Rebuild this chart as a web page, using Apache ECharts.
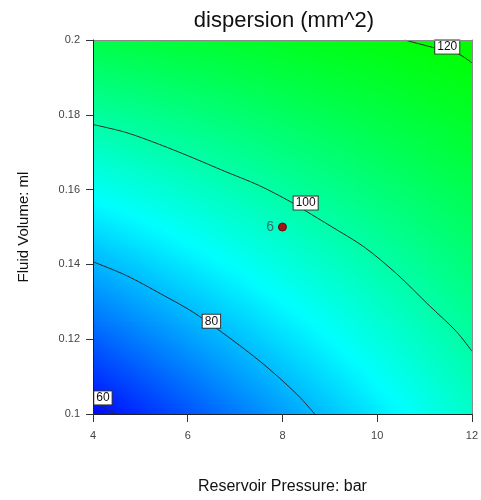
<!DOCTYPE html>
<html>
<head>
<meta charset="utf-8">
<script src="https://cdn.jsdelivr.net/npm/echarts@6/dist/echarts.min.js"></script>
<style>
  html, body { margin: 0; padding: 0; background: #fff; overflow: hidden; }
  #chart { width: 481px; height: 500px; }
</style>
</head>
<body>
<div id="chart"></div>
<script>
// grid nodes of the response surface
const pressureNodes = [4, 4.5, 5, 5.5, 6, 6.5, 7, 7.5, 8, 8.5, 9, 9.5, 10, 10.5, 11, 11.5, 12];
const volumeNodes = [0.1, 0.105, 0.11, 0.115, 0.12, 0.125, 0.13, 0.135, 0.14, 0.145, 0.15,
  0.155, 0.16, 0.165, 0.17, 0.175, 0.18, 0.185, 0.19, 0.195, 0.2];

// dispersion (mm^2) estimated at each node, one row per volume node (0.1 first)
const dispersion = [
  [58.0, 60.4, 62.7, 65.1, 67.4, 69.8, 72.1, 74.5, 76.8, 79.2, 81.5, 83.9, 86.2, 88.6, 90.9, 93.3, 95.6],
  [60.7, 63.0, 65.2, 67.5, 69.8, 72.0, 74.3, 76.5, 78.8, 81.1, 83.3, 85.6, 87.9, 90.1, 92.4, 94.6, 96.9],
  [63.4, 65.6, 67.8, 69.9, 72.1, 74.3, 76.5, 78.6, 80.8, 83.0, 85.2, 87.3, 89.5, 91.7, 93.9, 96.0, 98.2],
  [66.1, 68.2, 70.3, 72.4, 74.5, 76.5, 78.6, 80.7, 82.8, 84.9, 87.0, 89.1, 91.2, 93.2, 95.3, 97.4, 99.5],
  [68.8, 70.8, 72.8, 74.8, 76.8, 78.8, 80.8, 82.8, 84.8, 86.8, 88.8, 90.8, 92.8, 94.8, 96.8, 98.8, 100.8],
  [71.5, 73.4, 75.3, 77.2, 79.2, 81.1, 83.0, 84.9, 86.8, 88.7, 90.6, 92.5, 94.5, 96.4, 98.3, 100.2, 102.1],
  [74.2, 76.0, 77.9, 79.7, 81.5, 83.3, 85.2, 87.0, 88.8, 90.6, 92.5, 94.3, 96.1, 97.9, 99.8, 101.6, 103.4],
  [76.9, 78.6, 80.4, 82.1, 83.9, 85.6, 87.3, 89.1, 90.8, 92.5, 94.3, 96.0, 97.8, 99.5, 101.2, 103.0, 104.7],
  [79.6, 81.3, 82.9, 84.6, 86.2, 87.9, 89.5, 91.2, 92.8, 94.5, 96.1, 97.8, 99.4, 101.1, 102.7, 104.4, 106.0],
  [82.3, 83.9, 85.4, 87.0, 88.6, 90.1, 91.7, 93.2, 94.8, 96.4, 97.9, 99.5, 101.1, 102.6, 104.2, 105.7, 107.3],
  [85.0, 86.5, 88.0, 89.4, 90.9, 92.4, 93.9, 95.3, 96.8, 98.3, 99.8, 101.2, 102.7, 104.2, 105.7, 107.1, 108.6],
  [87.7, 89.1, 90.5, 91.9, 93.3, 94.6, 96.0, 97.4, 98.8, 100.2, 101.6, 103.0, 104.4, 105.7, 107.1, 108.5, 109.9],
  [90.4, 91.7, 93.0, 94.3, 95.6, 96.9, 98.2, 99.5, 100.8, 102.1, 103.4, 104.7, 106.0, 107.3, 108.6, 109.9, 111.2],
  [93.1, 94.3, 95.5, 96.7, 98.0, 99.2, 100.4, 101.6, 102.8, 104.0, 105.2, 106.4, 107.7, 108.9, 110.1, 111.3, 112.5],
  [95.8, 96.9, 98.1, 99.2, 100.3, 101.4, 102.6, 103.7, 104.8, 105.9, 107.1, 108.2, 109.3, 110.4, 111.6, 112.7, 113.8],
  [98.5, 99.5, 100.6, 101.6, 102.7, 103.7, 104.7, 105.8, 106.8, 107.8, 108.9, 109.9, 111.0, 112.0, 113.0, 114.1, 115.1],
  [101.2, 102.2, 103.1, 104.1, 105.0, 106.0, 106.9, 107.9, 108.8, 109.8, 110.7, 111.7, 112.6, 113.6, 114.5, 115.5, 116.4],
  [103.9, 104.8, 105.6, 106.5, 107.4, 108.2, 109.1, 109.9, 110.8, 111.7, 112.5, 113.4, 114.3, 115.1, 116.0, 116.8, 117.7],
  [106.6, 107.4, 108.2, 108.9, 109.7, 110.5, 111.3, 112.0, 112.8, 113.6, 114.4, 115.1, 115.9, 116.7, 117.5, 118.2, 119.0],
  [109.3, 110.0, 110.7, 111.4, 112.1, 112.7, 113.4, 114.1, 114.8, 115.5, 116.2, 116.9, 117.6, 118.2, 118.9, 119.6, 120.3],
  [112.0, 112.6, 113.2, 113.8, 114.4, 115.0, 115.6, 116.2, 116.8, 117.4, 118.0, 118.6, 119.2, 119.8, 120.4, 121.0, 121.6]
];

// contour lines [pressure, volume]
const contour60 = [[4, 0.1032], [4.25, 0.1016], [4.48, 0.1]];
const contour80 = [[4, 0.1407], [4.71, 0.137], [5.42, 0.1322], [6.13, 0.1271], [6.92, 0.12],
  [7.63, 0.113], [8.32, 0.1051], [8.68, 0.1]];
const contour100 = [[4, 0.1774], [4.69, 0.1753], [5.4, 0.1721], [6.09, 0.1686], [6.78, 0.1649],
  [7.49, 0.1612], [8.18, 0.1567], [8.49, 0.1543], [9.01, 0.1503], [9.72, 0.1447],
  [10.41, 0.1375], [11.1, 0.129], [11.67, 0.1221], [12, 0.1168]];
const contour120 = [[10.58, 0.2], [11.21, 0.1979], [11.71, 0.1963], [12, 0.1939]];

// contour labels [pressure, volume, level]
const contourLabels = [[4.21, 0.1043, 60], [6.5, 0.1248, 80], [8.49, 0.1564, 100], [11.48, 0.1981, 120]];

// design point (centre point, replicate count)
const designPoints = [[8, 0.15, 6]];

const font = 'Liberation Sans, Arial, sans-serif';
const palette = ['#0000ff', '#00ffff', '#00ff00'];
const colorMin = 57;
const colorMax = 121;

function colorOf(v) {
  const t = Math.min(1, Math.max(0, (v - colorMin) / (colorMax - colorMin)));
  return echarts.color.lerp(t, palette);
}

// one item per cell: x0, y0, x1, y1, bottom-left, bottom-right, top-left, top-right
const cells = [];
for (let j = 0; j < volumeNodes.length - 1; j++) {
  for (let i = 0; i < pressureNodes.length - 1; i++) {
    cells.push([
      pressureNodes[i], volumeNodes[j], pressureNodes[i + 1], volumeNodes[j + 1],
      dispersion[j][i], dispersion[j][i + 1], dispersion[j + 1][i], dispersion[j + 1][i + 1]
    ]);
  }
}

function renderCell(params, api) {
  const p0 = api.coord([api.value(0), api.value(1)]);
  const p1 = api.coord([api.value(2), api.value(3)]);
  const v00 = api.value(4), v10 = api.value(5), v01 = api.value(6), v11 = api.value(7);
  const w = p1[0] - p0[0];
  const h = p0[1] - p1[1];
  // value change per pixel inside the cell (screen y grows downwards)
  const gx = ((v10 - v00) + (v11 - v01)) / 2 / w;
  const gy = -((v01 - v00) + (v11 - v10)) / 2 / h;
  const g = Math.sqrt(gx * gx + gy * gy) || 1e-9;
  const ux = gx / g, uy = gy / g;
  const half = (w * Math.abs(ux) + h * Math.abs(uy)) / 2;
  const cx = p0[0] + w / 2, cy = p1[1] + h / 2;
  const vc = (v00 + v10 + v01 + v11) / 4;
  const stops = [];
  for (let k = 0; k <= 4; k++) {
    const t = k / 4;
    stops.push({ offset: t, color: colorOf(vc + g * half * (2 * t - 1)) });
  }
  return {
    type: 'rect',
    shape: { x: p0[0] - 0.4, y: p1[1] - 0.4, width: w + 0.8, height: h + 0.8 },
    style: {
      fill: new echarts.graphic.LinearGradient(
        cx - ux * half, cy - uy * half, cx + ux * half, cy + uy * half, stops, true),
      stroke: null
    }
  };
}

function contourSeries(data) {
  return {
    type: 'line',
    data: data,
    smooth: 0.3,
    showSymbol: false,
    silent: true,
    z: 3,
    lineStyle: { color: '#2a2a2a', width: 1 }
  };
}

// plain frame line for the top and right edges of the plot
const frameAxis = {
  type: 'value',
  z: 6,
  axisLine: { show: true, lineStyle: { color: '#8a8a8a', width: 1 } },
  axisTick: { show: false },
  axisLabel: { show: false },
  splitLine: { show: false }
};

const chart = echarts.init(document.getElementById('chart'), null, { renderer: 'canvas' });

chart.setOption({
  animation: false,
  backgroundColor: '#fff',
  title: {
    text: 'dispersion (mm^2)',
    left: 284,
    top: 10,
    padding: 0,
    textAlign: 'center',
    textStyle: { fontFamily: font, fontSize: 22, fontWeight: 'normal', color: '#111' }
  },
  grid: { left: 93, top: 40, width: 383, height: 376 },
  xAxis: [
    {
      type: 'value',
      min: 4,
      max: 12,
      interval: 2,
      position: 'bottom',
      z: 7,
      name: 'Reservoir Pressure: bar',
      nameLocation: 'middle',
      nameGap: 65,
      nameTextStyle: { fontFamily: font, fontSize: 16, color: '#111' },
      axisLine: { lineStyle: { color: '#222', width: 1 } },
      axisTick: { length: 8, lineStyle: { color: '#333' } },
      axisLabel: { fontFamily: font, fontSize: 11, color: '#444', margin: 16 },
      splitLine: { show: false }
    },
    Object.assign({ min: 4, max: 12, position: 'top' }, frameAxis)
  ],
  yAxis: [
    {
      type: 'value',
      min: 0.1,
      max: 0.2,
      interval: 0.02,
      position: 'left',
      z: 7,
      name: 'Fluid Volume: ml',
      nameLocation: 'middle',
      nameGap: 62,
      nameTextStyle: { fontFamily: font, fontSize: 15, color: '#111' },
      axisLine: { lineStyle: { color: '#222', width: 1 } },
      axisTick: { length: 7, lineStyle: { color: '#333' } },
      axisLabel: { fontFamily: font, fontSize: 11, color: '#444', margin: 13 },
      splitLine: { show: false }
    },
    Object.assign({ min: 0.1, max: 0.2, position: 'right' }, frameAxis)
  ],
  series: [
    {
      type: 'custom',
      data: cells,
      encode: { x: [0, 2], y: [1, 3] },
      renderItem: renderCell,
      clip: true,
      silent: true,
      z: 1
    },
    contourSeries(contour60),
    contourSeries(contour80),
    contourSeries(contour100),
    contourSeries(contour120),
    {
      type: 'scatter',
      data: contourLabels,
      symbolSize: 0,
      silent: true,
      z: 4,
      itemStyle: { opacity: 1 },
      label: {
        show: true,
        position: 'inside',
        formatter: p => String(p.value[2]),
        fontFamily: font,
        fontSize: 12,
        color: '#111',
        backgroundColor: '#fff',
        borderColor: '#333',
        borderWidth: 1,
        padding: [1, 2, 0, 2],
        lineHeight: 12
      }
    },
    {
      type: 'scatter',
      data: designPoints,
      symbolSize: 8,
      silent: true,
      z: 4,
      itemStyle: { color: '#a31515', borderColor: '#5a0a0a', borderWidth: 1, opacity: 1 },
      label: {
        show: true,
        position: 'left',
        distance: 4,
        formatter: p => String(p.value[2]),
        fontFamily: font,
        fontSize: 14,
        color: '#3d6d62'
      }
    }
  ]
});
</script>
</body>
</html>
